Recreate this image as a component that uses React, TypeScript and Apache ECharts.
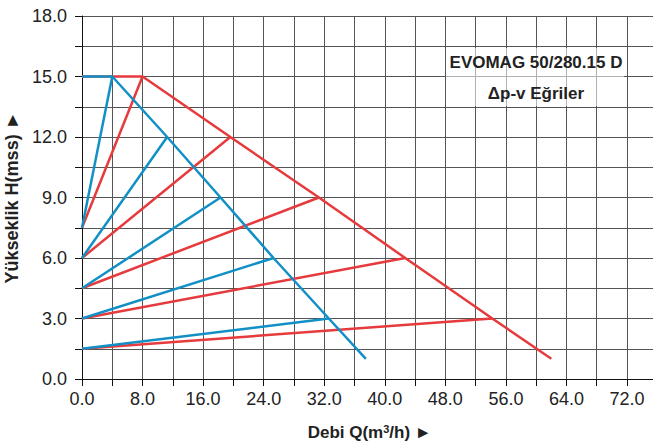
import React, { useEffect, useRef } from "react";
import * as echarts from "echarts";

// Δp-v curves: each starts at (0, startH) and rises to a peak
const startH = [7.5, 6, 4.5, 3, 1.5];
const peakH = [15, 12, 9, 6, 3];
const redPeakQ = [8, 19.6, 31.3, 42.7, 54.2];
const bluePeakQ = [4, 11.25, 18.3, 25.3, 32.6];
// Max curve (envelope) end points
const topH = 15;
const redEnd = [62, 1];
const blueEnd = [37.5, 1];

const RED = "#e63a3c";
const BLUE = "#1290c6";
const FONT = "'Liberation Sans', Arial, sans-serif";

function buildSeries() {
  const s: any[] = [];
  const mk = (name: string, color: string, data: number[][], z: number) => ({
    name,
    type: "line",
    data,
    symbol: "none",
    z,
    lineStyle: { color, width: 2.5 },
    animation: false,
  });
  s.push(
    mk("redMax", RED, [[0, topH], ...redPeakQ.map((q, i) => [q, peakH[i]]), redEnd], 2)
  );
  redPeakQ.forEach((q, i) => s.push(mk("red" + i, RED, [[0, startH[i]], [q, peakH[i]]], 2)));
  s.push(
    mk("blueMax", BLUE, [[0, topH], ...bluePeakQ.map((q, i) => [q, peakH[i]]), blueEnd], 3)
  );
  bluePeakQ.forEach((q, i) => s.push(mk("blue" + i, BLUE, [[0, startH[i]], [q, peakH[i]]], 3)));
  return s;
}

export default function App() {
  const ref = useRef<HTMLDivElement>(null);
  useEffect(() => {
    document.body.style.margin = "0";
    const chart = echarts.init(ref.current!, undefined, { renderer: "svg" });
    chart.setOption({
      animation: false,
      grid: {
        left: 82,
        top: 16,
        width: 575.3,
        height: 363,
        containLabel: false,
        outerBoundsMode: "none",
      },
      xAxis: {
        type: "value",
        min: 0,
        max: 76,
        interval: 4,
        name: "Debi Q(m{sup|3}/h) ►",
        nameLocation: "middle",
        nameGap: 44,
        nameTextStyle: {
          fontFamily: FONT,
          fontWeight: "bold",
          fontSize: 17,
          color: "#222",
          rich: {
            sup: { fontSize: 11, fontWeight: "bold", fontFamily: FONT, verticalAlign: "top", padding: [0, 0, 8, 0], color: "#222" },
          },
        },
        axisLine: { show: true, lineStyle: { color: "#111", width: 1 } },
        axisTick: { show: true, length: 7, lineStyle: { color: "#111" } },
        axisLabel: {
          fontFamily: FONT,
          fontSize: 18,
          color: "#222",
          margin: 11,
          formatter: (v: number) => (v % 8 === 0 ? v.toFixed(1) : ""),
        },
        splitLine: { show: true, lineStyle: { color: "#555", width: 1 } },
      },
      yAxis: {
        type: "value",
        min: 0,
        max: 18,
        interval: 1.5,
        name: "Yükseklik H(mss) ►",
        nameLocation: "middle",
        nameGap: 55,
        nameTextStyle: { fontFamily: FONT, fontWeight: "bold", fontSize: 18, color: "#222" },
        axisLine: { show: true, lineStyle: { color: "#111", width: 1 } },
        axisTick: { show: true, length: 7, lineStyle: { color: "#111" } },
        axisLabel: {
          fontFamily: FONT,
          fontSize: 18,
          color: "#222",
          margin: 15,
          formatter: (v: number) => (Math.round(v * 10) % 30 === 0 ? v.toFixed(1) : ""),
        },
        splitLine: { show: true, lineStyle: { color: "#555", width: 1 } },
      },
      graphic: [
        {
          type: "rect",
          shape: { x: 446, y: 48, width: 178, height: 58 },
          style: { fill: "rgba(255,255,255,0.55)" },
          z: 10,
        },
        {
          type: "text",
          x: 536,
          y: 62,
          z: 11,
          style: {
            text: "EVOMAG 50/280.15 D",
            fontFamily: FONT,
            fontWeight: "bold",
            fontSize: 17,
            fill: "#222",
            align: "center",
            verticalAlign: "middle",
          },
        },
        {
          type: "text",
          x: 536,
          y: 93,
          z: 11,
          style: {
            text: "Δp-v Eğriler",
            fontFamily: FONT,
            fontWeight: "bold",
            fontSize: 17,
            fill: "#222",
            align: "center",
            verticalAlign: "middle",
          },
        },
      ],
      series: buildSeries(),
    });
    return () => chart.dispose();
  }, []);
  return <div ref={ref} style={{ width: 653, height: 446 }} />;
}
